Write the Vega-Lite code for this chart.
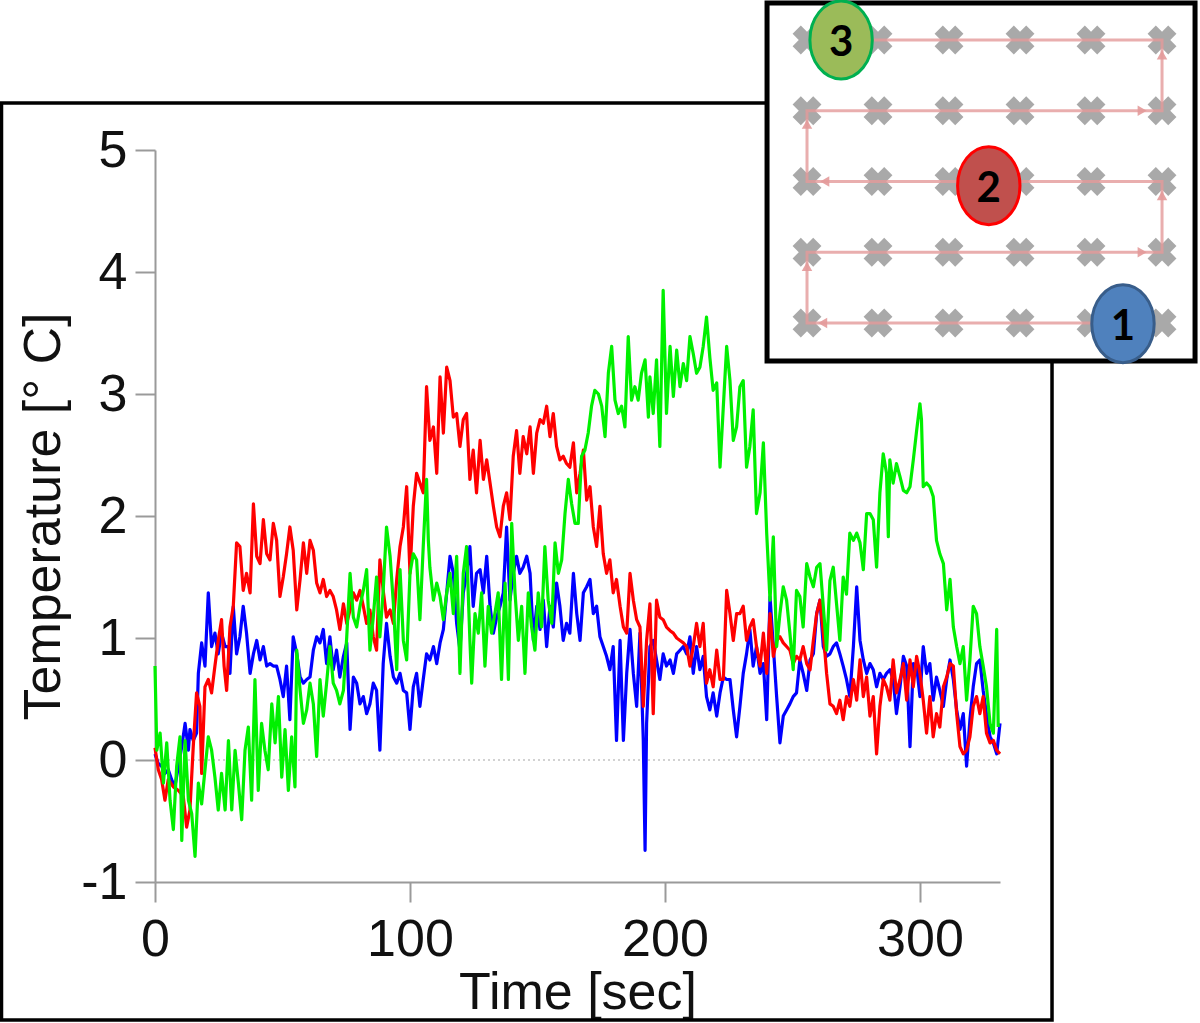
{
"$schema": "https://vega.github.io/schema/vega-lite/v6.json",
"width": 845, "height": 732,
"autosize": {"type": "none"},
"padding": {"left": 155, "top": 150, "right": 200, "bottom": 141},
"background": "white",
"config": {"view": {"stroke": null}, "font": "Liberation Sans"},
"datasets": {
"series": [
{"s":"1","t":0,"v":0.05},{"s":"1","t":1.3,"v":-0.03},{"s":"1","t":2.6,"v":-0.05},{"s":"1","t":3.9,"v":-0.11},{"s":"1","t":5.2,"v":-0.08},{"s":"1","t":6.5,"v":-0.16},{"s":"1","t":7.8,"v":-0.22},{"s":"1","t":9.2,"v":-0.05},{"s":"1","t":10.5,"v":0.11},{"s":"1","t":11.8,"v":0.3},{"s":"1","t":13.1,"v":0.08},{"s":"1","t":13.7,"v":0.25},{"s":"1","t":15,"v":0.16},{"s":"1","t":16.3,"v":0.22},{"s":"1","t":17,"v":0.71},{"s":"1","t":18.3,"v":0.96},{"s":"1","t":19.6,"v":0.77},{"s":"1","t":20.9,"v":1.37},{"s":"1","t":22.2,"v":0.93},{"s":"1","t":23.5,"v":1.04},{"s":"1","t":24.8,"v":0.87},{"s":"1","t":26.1,"v":1.04},{"s":"1","t":27.5,"v":0.93},{"s":"1","t":28.8,"v":0.93},{"s":"1","t":29.4,"v":0.71},{"s":"1","t":30.7,"v":1.26},{"s":"1","t":32,"v":0.87},{"s":"1","t":33.3,"v":1.01},{"s":"1","t":34.6,"v":1.26},{"s":"1","t":35.9,"v":1.04},{"s":"1","t":37.3,"v":0.71},{"s":"1","t":38.6,"v":0.87},{"s":"1","t":39.9,"v":0.98},{"s":"1","t":41.2,"v":0.82},{"s":"1","t":42.5,"v":0.93},{"s":"1","t":43.8,"v":0.77},{"s":"1","t":45.1,"v":0.79},{"s":"1","t":46.4,"v":0.77},{"s":"1","t":47.7,"v":0.77},{"s":"1","t":49,"v":0.66},{"s":"1","t":50.3,"v":0.52},{"s":"1","t":51.6,"v":0.77},{"s":"1","t":52.9,"v":0.33},{"s":"1","t":54.2,"v":1.01},{"s":"1","t":55.6,"v":0.87},{"s":"1","t":56.9,"v":0.68},{"s":"1","t":58.2,"v":0.63},{"s":"1","t":59.5,"v":0.66},{"s":"1","t":60.8,"v":0.68},{"s":"1","t":62.1,"v":0.9},{"s":"1","t":63.4,"v":1.01},{"s":"1","t":64.7,"v":0.96},{"s":"1","t":66,"v":1.07},{"s":"1","t":67.3,"v":0.79},{"s":"1","t":68.6,"v":1.01},{"s":"1","t":69.9,"v":0.74},{"s":"1","t":71.2,"v":0.9},{"s":"1","t":72.5,"v":0.68},{"s":"1","t":73.9,"v":0.85},{"s":"1","t":75.2,"v":0.96},{"s":"1","t":76.5,"v":0.25},{"s":"1","t":77.8,"v":0.68},{"s":"1","t":79.1,"v":0.63},{"s":"1","t":80.4,"v":0.46},{"s":"1","t":81.7,"v":0.52},{"s":"1","t":83,"v":0.38},{"s":"1","t":84.3,"v":0.46},{"s":"1","t":85.6,"v":0.63},{"s":"1","t":86.9,"v":0.57},{"s":"1","t":88.2,"v":0.08},{"s":"1","t":89.5,"v":0.79},{"s":"1","t":90.8,"v":1.12},{"s":"1","t":92.2,"v":0.85},{"s":"1","t":93.5,"v":0.68},{"s":"1","t":94.8,"v":0.63},{"s":"1","t":96.1,"v":0.71},{"s":"1","t":97.4,"v":0.57},{"s":"1","t":98.7,"v":0.55},{"s":"1","t":100,"v":0.25},{"s":"1","t":101.3,"v":0.6},{"s":"1","t":102.6,"v":0.71},{"s":"1","t":103.9,"v":0.44},{"s":"1","t":105.2,"v":0.66},{"s":"1","t":106.5,"v":0.87},{"s":"1","t":107.8,"v":0.82},{"s":"1","t":109.2,"v":0.93},{"s":"1","t":110.5,"v":0.79},{"s":"1","t":111.8,"v":0.96},{"s":"1","t":113.1,"v":1.07},{"s":"1","t":114.4,"v":1.37},{"s":"1","t":115.7,"v":1.67},{"s":"1","t":117,"v":1.53},{"s":"1","t":118.3,"v":1.12},{"s":"1","t":119.6,"v":0.9},{"s":"1","t":120.9,"v":1.37},{"s":"1","t":122.2,"v":1.53},{"s":"1","t":123.5,"v":1.75},{"s":"1","t":124.8,"v":1.26},{"s":"1","t":126.1,"v":1.53},{"s":"1","t":127.5,"v":1.56},{"s":"1","t":128.8,"v":1.37},{"s":"1","t":130.1,"v":1.67},{"s":"1","t":131.4,"v":1.26},{"s":"1","t":132.7,"v":1.04},{"s":"1","t":134,"v":1.17},{"s":"1","t":135.3,"v":1.26},{"s":"1","t":136.6,"v":1.37},{"s":"1","t":137.9,"v":1.91},{"s":"1","t":139.2,"v":1.31},{"s":"1","t":140.5,"v":1.53},{"s":"1","t":141.8,"v":1.67},{"s":"1","t":143.1,"v":1.53},{"s":"1","t":144.4,"v":1.58},{"s":"1","t":145.8,"v":1.67},{"s":"1","t":147.1,"v":1.53},{"s":"1","t":148.4,"v":0.98},{"s":"1","t":149.7,"v":1.26},{"s":"1","t":151,"v":1.07},{"s":"1","t":152.3,"v":1.31},{"s":"1","t":153.6,"v":0.93},{"s":"1","t":154.9,"v":1.26},{"s":"1","t":156.2,"v":1.09},{"s":"1","t":157.5,"v":1.45},{"s":"1","t":158.8,"v":1.26},{"s":"1","t":160.1,"v":0.98},{"s":"1","t":161.4,"v":1.12},{"s":"1","t":162.7,"v":1.04},{"s":"1","t":164.1,"v":1.53},{"s":"1","t":165.4,"v":1.2},{"s":"1","t":166.7,"v":0.98},{"s":"1","t":168,"v":1.37},{"s":"1","t":169.3,"v":1.42},{"s":"1","t":170.6,"v":1.48},{"s":"1","t":171.9,"v":1.2},{"s":"1","t":173.2,"v":1.26},{"s":"1","t":174.5,"v":1.01},{"s":"1","t":175.8,"v":0.93},{"s":"1","t":177.1,"v":0.85},{"s":"1","t":178.4,"v":0.74},{"s":"1","t":179.7,"v":0.93},{"s":"1","t":181,"v":0.16},{"s":"1","t":182.4,"v":0.98},{"s":"1","t":183.7,"v":0.16},{"s":"1","t":185,"v":0.71},{"s":"1","t":186.3,"v":1.07},{"s":"1","t":187.6,"v":0.71},{"s":"1","t":188.9,"v":0.44},{"s":"1","t":190.2,"v":1.04},{"s":"1","t":191.5,"v":0.16},{"s":"1","t":192.2,"v":-0.74},{"s":"1","t":192.8,"v":0.3},{"s":"1","t":194.1,"v":0.93},{"s":"1","t":195.4,"v":0.98},{"s":"1","t":196.7,"v":0.82},{"s":"1","t":198,"v":0.66},{"s":"1","t":199.3,"v":0.87},{"s":"1","t":200.6,"v":0.77},{"s":"1","t":202,"v":0.82},{"s":"1","t":203.3,"v":0.71},{"s":"1","t":204.6,"v":0.87},{"s":"1","t":205.9,"v":0.9},{"s":"1","t":207.2,"v":0.93},{"s":"1","t":208.5,"v":0.87},{"s":"1","t":209.8,"v":1.01},{"s":"1","t":211.1,"v":0.71},{"s":"1","t":212.4,"v":0.93},{"s":"1","t":213.7,"v":0.74},{"s":"1","t":215,"v":0.85},{"s":"1","t":216.3,"v":0.52},{"s":"1","t":217.6,"v":0.41},{"s":"1","t":218.9,"v":0.55},{"s":"1","t":220.3,"v":0.36},{"s":"1","t":221.6,"v":0.55},{"s":"1","t":222.9,"v":0.68},{"s":"1","t":224.2,"v":0.66},{"s":"1","t":225.5,"v":0.66},{"s":"1","t":226.8,"v":0.41},{"s":"1","t":228.1,"v":0.19},{"s":"1","t":229.4,"v":0.44},{"s":"1","t":230.7,"v":0.71},{"s":"1","t":232,"v":0.87},{"s":"1","t":233.3,"v":1.07},{"s":"1","t":234.6,"v":0.77},{"s":"1","t":235.9,"v":0.93},{"s":"1","t":237.3,"v":0.71},{"s":"1","t":238.6,"v":0.79},{"s":"1","t":239.9,"v":0.33},{"s":"1","t":241.2,"v":1.34},{"s":"1","t":242.5,"v":0.93},{"s":"1","t":243.8,"v":0.52},{"s":"1","t":245.1,"v":0.14},{"s":"1","t":246.4,"v":0.36},{"s":"1","t":247.7,"v":0.41},{"s":"1","t":249,"v":0.46},{"s":"1","t":250.3,"v":0.52},{"s":"1","t":251.6,"v":0.55},{"s":"1","t":252.9,"v":0.82},{"s":"1","t":254.2,"v":0.71},{"s":"1","t":255.6,"v":0.57},{"s":"1","t":256.9,"v":0.82},{"s":"1","t":258.2,"v":0.87},{"s":"1","t":259.5,"v":1.2},{"s":"1","t":260.8,"v":1.31},{"s":"1","t":262.1,"v":0.93},{"s":"1","t":263.4,"v":0.85},{"s":"1","t":264.7,"v":0.87},{"s":"1","t":266,"v":0.93},{"s":"1","t":267.3,"v":0.96},{"s":"1","t":268.6,"v":0.87},{"s":"1","t":269.9,"v":0.77},{"s":"1","t":271.2,"v":0.66},{"s":"1","t":272.5,"v":0.52},{"s":"1","t":273.9,"v":0.93},{"s":"1","t":275.2,"v":1.42},{"s":"1","t":276.5,"v":0.98},{"s":"1","t":277.8,"v":0.82},{"s":"1","t":279.1,"v":0.71},{"s":"1","t":280.4,"v":0.79},{"s":"1","t":281.7,"v":0.74},{"s":"1","t":283,"v":0.6},{"s":"1","t":284.3,"v":0.71},{"s":"1","t":285.6,"v":0.66},{"s":"1","t":286.9,"v":0.71},{"s":"1","t":288.2,"v":0.74},{"s":"1","t":289.5,"v":0.66},{"s":"1","t":290.8,"v":0.38},{"s":"1","t":292.2,"v":0.6},{"s":"1","t":293.5,"v":0.85},{"s":"1","t":294.8,"v":0.77},{"s":"1","t":296.1,"v":0.11},{"s":"1","t":297.4,"v":0.79},{"s":"1","t":298.7,"v":0.77},{"s":"1","t":300,"v":0.52},{"s":"1","t":301.3,"v":0.93},{"s":"1","t":302.6,"v":0.71},{"s":"1","t":303.9,"v":0.79},{"s":"1","t":305.2,"v":0.49},{"s":"1","t":306.5,"v":0.68},{"s":"1","t":307.8,"v":0.57},{"s":"1","t":309.2,"v":0.44},{"s":"1","t":310.5,"v":0.66},{"s":"1","t":311.8,"v":0.82},{"s":"1","t":313.1,"v":0.66},{"s":"1","t":314.4,"v":0.41},{"s":"1","t":315.7,"v":0.25},{"s":"1","t":317,"v":0.38},{"s":"1","t":318.3,"v":-0.05},{"s":"1","t":319.6,"v":0.33},{"s":"1","t":320.9,"v":0.6},{"s":"1","t":322.2,"v":0.79},{"s":"1","t":323.5,"v":0.82},{"s":"1","t":324.8,"v":0.57},{"s":"1","t":326.1,"v":0.38},{"s":"1","t":327.5,"v":0.19},{"s":"1","t":328.8,"v":0.14},{"s":"1","t":330.1,"v":0.05},{"s":"1","t":331.4,"v":0.3},
{"s":"2","t":0,"v":0.1},{"s":"2","t":1.3,"v":-0.08},{"s":"2","t":2.6,"v":-0.16},{"s":"2","t":3.9,"v":-0.33},{"s":"2","t":5.2,"v":-0.16},{"s":"2","t":7.2,"v":-0.22},{"s":"2","t":9.2,"v":-0.25},{"s":"2","t":11.1,"v":-0.3},{"s":"2","t":12.4,"v":-0.55},{"s":"2","t":13.7,"v":-0.41},{"s":"2","t":15,"v":0.11},{"s":"2","t":16.3,"v":0.55},{"s":"2","t":17.6,"v":0.44},{"s":"2","t":18.3,"v":-0.11},{"s":"2","t":19.6,"v":0.6},{"s":"2","t":20.9,"v":0.66},{"s":"2","t":22.2,"v":0.55},{"s":"2","t":23.5,"v":0.77},{"s":"2","t":24.8,"v":0.98},{"s":"2","t":26.1,"v":1.15},{"s":"2","t":27.1,"v":0.77},{"s":"2","t":28.1,"v":0.57},{"s":"2","t":29.4,"v":1.09},{"s":"2","t":30.7,"v":1.26},{"s":"2","t":32,"v":1.78},{"s":"2","t":33.3,"v":1.75},{"s":"2","t":34.6,"v":1.39},{"s":"2","t":35.9,"v":1.53},{"s":"2","t":37.3,"v":1.37},{"s":"2","t":38.6,"v":2.1},{"s":"2","t":39.9,"v":1.67},{"s":"2","t":41.2,"v":1.61},{"s":"2","t":42.5,"v":1.97},{"s":"2","t":43.8,"v":1.69},{"s":"2","t":45.1,"v":1.64},{"s":"2","t":46.4,"v":1.94},{"s":"2","t":47.7,"v":1.8},{"s":"2","t":49,"v":1.34},{"s":"2","t":50.3,"v":1.5},{"s":"2","t":51.6,"v":1.69},{"s":"2","t":52.9,"v":1.91},{"s":"2","t":54.2,"v":1.72},{"s":"2","t":55.6,"v":1.23},{"s":"2","t":56.9,"v":1.48},{"s":"2","t":58.2,"v":1.78},{"s":"2","t":59.5,"v":1.53},{"s":"2","t":60.8,"v":1.8},{"s":"2","t":62.1,"v":1.72},{"s":"2","t":63.4,"v":1.45},{"s":"2","t":64.7,"v":1.37},{"s":"2","t":66,"v":1.48},{"s":"2","t":67.3,"v":1.34},{"s":"2","t":68.6,"v":1.39},{"s":"2","t":69.9,"v":1.34},{"s":"2","t":71.2,"v":1.23},{"s":"2","t":72.5,"v":1.07},{"s":"2","t":73.9,"v":1.28},{"s":"2","t":75.2,"v":1.12},{"s":"2","t":76.5,"v":1.23},{"s":"2","t":77.8,"v":1.37},{"s":"2","t":79.1,"v":1.31},{"s":"2","t":80.4,"v":1.39},{"s":"2","t":81.7,"v":1.26},{"s":"2","t":83,"v":1.12},{"s":"2","t":84.3,"v":1.23},{"s":"2","t":85.6,"v":1.01},{"s":"2","t":86.9,"v":0.9},{"s":"2","t":88.2,"v":1.64},{"s":"2","t":89.5,"v":1.39},{"s":"2","t":90.8,"v":1.17},{"s":"2","t":92.2,"v":1.23},{"s":"2","t":93.5,"v":1.12},{"s":"2","t":94.8,"v":1.48},{"s":"2","t":96.1,"v":1.75},{"s":"2","t":97.4,"v":1.91},{"s":"2","t":98.7,"v":2.24},{"s":"2","t":100,"v":1.53},{"s":"2","t":101.3,"v":2.08},{"s":"2","t":102.6,"v":2.35},{"s":"2","t":103.9,"v":2.27},{"s":"2","t":105.2,"v":2.19},{"s":"2","t":106.5,"v":3.06},{"s":"2","t":107.8,"v":2.62},{"s":"2","t":109.2,"v":2.73},{"s":"2","t":110.5,"v":2.35},{"s":"2","t":111.8,"v":3.14},{"s":"2","t":113.1,"v":2.68},{"s":"2","t":114.4,"v":3.22},{"s":"2","t":115.7,"v":3.11},{"s":"2","t":117,"v":2.81},{"s":"2","t":118.3,"v":2.84},{"s":"2","t":119.6,"v":2.57},{"s":"2","t":120.9,"v":2.79},{"s":"2","t":122.2,"v":2.84},{"s":"2","t":123.5,"v":2.3},{"s":"2","t":124.8,"v":2.54},{"s":"2","t":126.1,"v":2.19},{"s":"2","t":127.5,"v":2.62},{"s":"2","t":128.8,"v":2.3},{"s":"2","t":130.1,"v":2.46},{"s":"2","t":131.4,"v":2.27},{"s":"2","t":132.7,"v":2.08},{"s":"2","t":134,"v":1.91},{"s":"2","t":135.3,"v":1.83},{"s":"2","t":136.6,"v":2.08},{"s":"2","t":137.9,"v":2.19},{"s":"2","t":139.2,"v":1.97},{"s":"2","t":140.5,"v":2.49},{"s":"2","t":141.8,"v":2.7},{"s":"2","t":143.1,"v":2.35},{"s":"2","t":144.4,"v":2.65},{"s":"2","t":145.8,"v":2.51},{"s":"2","t":147.1,"v":2.73},{"s":"2","t":148.4,"v":2.35},{"s":"2","t":149.7,"v":2.68},{"s":"2","t":151,"v":2.79},{"s":"2","t":152.3,"v":2.76},{"s":"2","t":153.6,"v":2.9},{"s":"2","t":154.9,"v":2.65},{"s":"2","t":156.2,"v":2.84},{"s":"2","t":157.5,"v":2.57},{"s":"2","t":158.8,"v":2.46},{"s":"2","t":160.1,"v":2.49},{"s":"2","t":161.4,"v":2.43},{"s":"2","t":162.7,"v":2.4},{"s":"2","t":164.1,"v":2.6},{"s":"2","t":165.4,"v":2.19},{"s":"2","t":166.7,"v":2.35},{"s":"2","t":168,"v":2.54},{"s":"2","t":169.3,"v":2.13},{"s":"2","t":170.6,"v":2.24},{"s":"2","t":171.9,"v":1.91},{"s":"2","t":173.2,"v":1.75},{"s":"2","t":174.5,"v":2.08},{"s":"2","t":175.8,"v":1.69},{"s":"2","t":177.1,"v":1.53},{"s":"2","t":178.4,"v":1.64},{"s":"2","t":179.7,"v":1.37},{"s":"2","t":181,"v":1.48},{"s":"2","t":182.4,"v":1.26},{"s":"2","t":183.7,"v":1.09},{"s":"2","t":185,"v":1.04},{"s":"2","t":186.3,"v":1.53},{"s":"2","t":187.6,"v":1.31},{"s":"2","t":188.9,"v":1.15},{"s":"2","t":190.2,"v":1.09},{"s":"2","t":191.5,"v":0.44},{"s":"2","t":192.8,"v":0.98},{"s":"2","t":194.1,"v":1.28},{"s":"2","t":195.4,"v":0.38},{"s":"2","t":196.7,"v":1.31},{"s":"2","t":198,"v":1.17},{"s":"2","t":199.3,"v":1.15},{"s":"2","t":200.6,"v":1.09},{"s":"2","t":202,"v":1.06},{"s":"2","t":203.3,"v":1.04},{"s":"2","t":204.6,"v":1.0},{"s":"2","t":205.9,"v":0.98},{"s":"2","t":207.2,"v":0.96},{"s":"2","t":208.5,"v":0.93},{"s":"2","t":209.8,"v":0.77},{"s":"2","t":211.1,"v":0.93},{"s":"2","t":212.4,"v":1.12},{"s":"2","t":213.7,"v":0.93},{"s":"2","t":215,"v":1.12},{"s":"2","t":216.3,"v":0.63},{"s":"2","t":217.6,"v":0.74},{"s":"2","t":218.9,"v":0.6},{"s":"2","t":220.3,"v":0.9},{"s":"2","t":221.6,"v":0.66},{"s":"2","t":222.9,"v":0.66},{"s":"2","t":224.2,"v":1.39},{"s":"2","t":225.5,"v":1.2},{"s":"2","t":226.8,"v":0.98},{"s":"2","t":228.1,"v":1.2},{"s":"2","t":229.4,"v":1.2},{"s":"2","t":230.7,"v":1.26},{"s":"2","t":232,"v":0.98},{"s":"2","t":233.3,"v":1.09},{"s":"2","t":234.6,"v":1.15},{"s":"2","t":235.9,"v":0.93},{"s":"2","t":237.3,"v":0.77},{"s":"2","t":238.6,"v":1.04},{"s":"2","t":239.9,"v":0.71},{"s":"2","t":241.2,"v":1.2},{"s":"2","t":242.5,"v":0.85},{"s":"2","t":243.8,"v":0.98},{"s":"2","t":245.1,"v":1.01},{"s":"2","t":246.4,"v":0.96},{"s":"2","t":247.7,"v":0.93},{"s":"2","t":249,"v":0.9},{"s":"2","t":250.3,"v":0.79},{"s":"2","t":251.6,"v":0.85},{"s":"2","t":252.9,"v":0.82},{"s":"2","t":254.2,"v":0.93},{"s":"2","t":255.6,"v":0.79},{"s":"2","t":256.9,"v":0.74},{"s":"2","t":258.2,"v":0.98},{"s":"2","t":259.5,"v":1.2},{"s":"2","t":260.8,"v":1.31},{"s":"2","t":262.1,"v":1.04},{"s":"2","t":263.4,"v":0.71},{"s":"2","t":264.7,"v":0.46},{"s":"2","t":266,"v":0.44},{"s":"2","t":267.3,"v":0.38},{"s":"2","t":268.6,"v":0.49},{"s":"2","t":269.9,"v":0.33},{"s":"2","t":271.2,"v":0.52},{"s":"2","t":272.5,"v":0.44},{"s":"2","t":273.9,"v":0.66},{"s":"2","t":275.2,"v":0.49},{"s":"2","t":276.5,"v":0.82},{"s":"2","t":277.8,"v":0.52},{"s":"2","t":279.1,"v":0.68},{"s":"2","t":280.4,"v":0.36},{"s":"2","t":281.7,"v":0.52},{"s":"2","t":283,"v":0.05},{"s":"2","t":284.3,"v":0.44},{"s":"2","t":285.6,"v":0.66},{"s":"2","t":286.9,"v":0.6},{"s":"2","t":288.2,"v":0.49},{"s":"2","t":289.5,"v":0.82},{"s":"2","t":290.8,"v":0.55},{"s":"2","t":292.2,"v":0.66},{"s":"2","t":293.5,"v":0.79},{"s":"2","t":294.8,"v":0.49},{"s":"2","t":296.1,"v":0.82},{"s":"2","t":297.4,"v":0.6},{"s":"2","t":298.7,"v":0.85},{"s":"2","t":300,"v":0.71},{"s":"2","t":301.3,"v":0.49},{"s":"2","t":302.6,"v":0.22},{"s":"2","t":303.9,"v":0.52},{"s":"2","t":305.2,"v":0.19},{"s":"2","t":306.5,"v":0.38},{"s":"2","t":307.8,"v":0.27},{"s":"2","t":309.2,"v":0.6},{"s":"2","t":310.5,"v":0.68},{"s":"2","t":311.8,"v":0.79},{"s":"2","t":313.1,"v":0.77},{"s":"2","t":314.4,"v":0.38},{"s":"2","t":315.7,"v":0.11},{"s":"2","t":317,"v":0.05},{"s":"2","t":318.3,"v":0.08},{"s":"2","t":319.6,"v":0.19},{"s":"2","t":320.9,"v":0.44},{"s":"2","t":322.2,"v":0.52},{"s":"2","t":323.5,"v":0.38},{"s":"2","t":324.8,"v":0.52},{"s":"2","t":326.1,"v":0.22},{"s":"2","t":327.5,"v":0.14},{"s":"2","t":328.8,"v":0.16},{"s":"2","t":330.1,"v":0.08},{"s":"2","t":331.4,"v":0.05},
{"s":"3","t":0,"v":0.77},{"s":"3","t":0.7,"v":0.08},{"s":"3","t":2,"v":0.22},{"s":"3","t":3.3,"v":-0.19},{"s":"3","t":4.6,"v":0.14},{"s":"3","t":5.9,"v":-0.33},{"s":"3","t":7.2,"v":-0.57},{"s":"3","t":8.5,"v":-0.05},{"s":"3","t":9.8,"v":0.19},{"s":"3","t":10.5,"v":-0.66},{"s":"3","t":11.8,"v":0.16},{"s":"3","t":13.1,"v":-0.33},{"s":"3","t":14.4,"v":-0.44},{"s":"3","t":15.7,"v":-0.79},{"s":"3","t":17,"v":-0.19},{"s":"3","t":18.3,"v":-0.36},{"s":"3","t":19.6,"v":-0.08},{"s":"3","t":20.9,"v":0.19},{"s":"3","t":22.2,"v":0.08},{"s":"3","t":23.5,"v":-0.14},{"s":"3","t":24.8,"v":-0.41},{"s":"3","t":26.1,"v":-0.11},{"s":"3","t":27.5,"v":-0.41},{"s":"3","t":28.8,"v":0.16},{"s":"3","t":30.1,"v":-0.41},{"s":"3","t":31.4,"v":0.08},{"s":"3","t":32.7,"v":-0.19},{"s":"3","t":34,"v":-0.49},{"s":"3","t":35.3,"v":0.08},{"s":"3","t":36.6,"v":0.27},{"s":"3","t":37.9,"v":-0.33},{"s":"3","t":39.2,"v":0.66},{"s":"3","t":40.5,"v":-0.25},{"s":"3","t":41.8,"v":0.3},{"s":"3","t":43.1,"v":0.08},{"s":"3","t":44.4,"v":-0.08},{"s":"3","t":45.8,"v":0.46},{"s":"3","t":47.1,"v":0.14},{"s":"3","t":48.4,"v":0.52},{"s":"3","t":49.7,"v":-0.14},{"s":"3","t":51,"v":0.25},{"s":"3","t":52.3,"v":-0.25},{"s":"3","t":53.6,"v":0.19},{"s":"3","t":54.9,"v":-0.22},{"s":"3","t":55.6,"v":0.9},{"s":"3","t":56.9,"v":0.57},{"s":"3","t":58.2,"v":0.3},{"s":"3","t":59.5,"v":0.41},{"s":"3","t":60.8,"v":0.63},{"s":"3","t":62.1,"v":0.46},{"s":"3","t":63.4,"v":0.03},{"s":"3","t":64.7,"v":0.66},{"s":"3","t":66,"v":0.36},{"s":"3","t":67.3,"v":0.63},{"s":"3","t":68.6,"v":0.93},{"s":"3","t":69.9,"v":0.63},{"s":"3","t":71.2,"v":0.57},{"s":"3","t":72.5,"v":0.46},{"s":"3","t":73.9,"v":0.57},{"s":"3","t":75.2,"v":1.01},{"s":"3","t":76.5,"v":1.53},{"s":"3","t":77.8,"v":1.17},{"s":"3","t":79.1,"v":1.09},{"s":"3","t":80.4,"v":1.26},{"s":"3","t":81.7,"v":1.39},{"s":"3","t":83,"v":1.56},{"s":"3","t":84.3,"v":0.9},{"s":"3","t":85.6,"v":1.17},{"s":"3","t":86.9,"v":1.5},{"s":"3","t":88.2,"v":1.01},{"s":"3","t":89.5,"v":1.39},{"s":"3","t":90.8,"v":1.91},{"s":"3","t":92.2,"v":1.67},{"s":"3","t":93.5,"v":1.28},{"s":"3","t":94.8,"v":0.74},{"s":"3","t":96.1,"v":1.56},{"s":"3","t":97.4,"v":0.98},{"s":"3","t":98.7,"v":0.82},{"s":"3","t":100,"v":1.53},{"s":"3","t":101.3,"v":1.69},{"s":"3","t":102.6,"v":1.64},{"s":"3","t":103.9,"v":1.15},{"s":"3","t":105.2,"v":1.75},{"s":"3","t":106.5,"v":2.3},{"s":"3","t":107.2,"v":1.8},{"s":"3","t":107.8,"v":1.58},{"s":"3","t":109.2,"v":1.31},{"s":"3","t":110.5,"v":1.45},{"s":"3","t":111.8,"v":1.34},{"s":"3","t":113.1,"v":1.15},{"s":"3","t":114.4,"v":1.37},{"s":"3","t":115.7,"v":1.53},{"s":"3","t":117,"v":1.2},{"s":"3","t":118.3,"v":1.67},{"s":"3","t":119.6,"v":0.71},{"s":"3","t":120.9,"v":1.53},{"s":"3","t":122.2,"v":1.75},{"s":"3","t":123.5,"v":0.98},{"s":"3","t":124.2,"v":0.63},{"s":"3","t":125.5,"v":1.2},{"s":"3","t":126.8,"v":1.04},{"s":"3","t":128.1,"v":1.37},{"s":"3","t":129.4,"v":0.77},{"s":"3","t":130.7,"v":1.26},{"s":"3","t":132,"v":1.04},{"s":"3","t":133.3,"v":1.2},{"s":"3","t":134.6,"v":1.37},{"s":"3","t":135.9,"v":0.66},{"s":"3","t":137.3,"v":1.45},{"s":"3","t":138.6,"v":0.66},{"s":"3","t":139.9,"v":1.94},{"s":"3","t":141.2,"v":1.37},{"s":"3","t":142.5,"v":0.98},{"s":"3","t":143.8,"v":1.26},{"s":"3","t":145.1,"v":0.71},{"s":"3","t":146.4,"v":1.37},{"s":"3","t":147.7,"v":1.09},{"s":"3","t":149,"v":0.9},{"s":"3","t":150.3,"v":1.37},{"s":"3","t":151.6,"v":1.09},{"s":"3","t":152.9,"v":1.75},{"s":"3","t":154.2,"v":1.31},{"s":"3","t":155.6,"v":1.12},{"s":"3","t":156.9,"v":1.78},{"s":"3","t":158.2,"v":1.53},{"s":"3","t":159.5,"v":1.64},{"s":"3","t":160.8,"v":2.02},{"s":"3","t":162.1,"v":2.3},{"s":"3","t":163.4,"v":2.1},{"s":"3","t":164.7,"v":1.94},{"s":"3","t":166,"v":1.94},{"s":"3","t":167.3,"v":2.49},{"s":"3","t":168.6,"v":2.54},{"s":"3","t":169.9,"v":2.68},{"s":"3","t":171.2,"v":2.9},{"s":"3","t":172.5,"v":3.03},{"s":"3","t":173.9,"v":3.0},{"s":"3","t":175.2,"v":2.9},{"s":"3","t":176.5,"v":2.65},{"s":"3","t":177.8,"v":3.17},{"s":"3","t":179.1,"v":3.39},{"s":"3","t":180.4,"v":2.95},{"s":"3","t":181.7,"v":2.84},{"s":"3","t":183,"v":2.9},{"s":"3","t":184.3,"v":2.73},{"s":"3","t":185.6,"v":3.47},{"s":"3","t":186.9,"v":2.95},{"s":"3","t":188.2,"v":3.06},{"s":"3","t":189.5,"v":2.95},{"s":"3","t":190.8,"v":3.17},{"s":"3","t":192.2,"v":3.28},{"s":"3","t":193.5,"v":2.81},{"s":"3","t":194.1,"v":3.14},{"s":"3","t":195.4,"v":2.84},{"s":"3","t":196.7,"v":3.28},{"s":"3","t":198,"v":2.57},{"s":"3","t":199.3,"v":3.85},{"s":"3","t":200.6,"v":2.84},{"s":"3","t":202,"v":3.39},{"s":"3","t":203.3,"v":2.98},{"s":"3","t":204.6,"v":3.36},{"s":"3","t":205.9,"v":3.06},{"s":"3","t":207.2,"v":3.25},{"s":"3","t":208.5,"v":3.11},{"s":"3","t":209.8,"v":3.47},{"s":"3","t":211.1,"v":3.33},{"s":"3","t":212.4,"v":3.17},{"s":"3","t":213.7,"v":3.22},{"s":"3","t":215,"v":3.39},{"s":"3","t":216.3,"v":3.63},{"s":"3","t":217.6,"v":3.3},{"s":"3","t":218.9,"v":3.03},{"s":"3","t":220.3,"v":3.09},{"s":"3","t":221.6,"v":2.4},{"s":"3","t":222.9,"v":2.9},{"s":"3","t":224.2,"v":3.39},{"s":"3","t":225.5,"v":3.11},{"s":"3","t":226.8,"v":2.62},{"s":"3","t":228.1,"v":2.73},{"s":"3","t":229.4,"v":3.06},{"s":"3","t":230.7,"v":3.11},{"s":"3","t":232,"v":2.4},{"s":"3","t":233.3,"v":2.57},{"s":"3","t":234.6,"v":2.87},{"s":"3","t":235.9,"v":2.02},{"s":"3","t":237.3,"v":2.19},{"s":"3","t":238.6,"v":2.6},{"s":"3","t":239.9,"v":1.86},{"s":"3","t":241.2,"v":1.31},{"s":"3","t":242.5,"v":1.83},{"s":"3","t":243.8,"v":0.93},{"s":"3","t":245.1,"v":1.2},{"s":"3","t":246.4,"v":1.42},{"s":"3","t":247.7,"v":1.31},{"s":"3","t":249,"v":1.04},{"s":"3","t":250.3,"v":0.74},{"s":"3","t":251.6,"v":1.39},{"s":"3","t":252.9,"v":1.34},{"s":"3","t":254.2,"v":1.09},{"s":"3","t":255.6,"v":1.61},{"s":"3","t":256.9,"v":1.5},{"s":"3","t":258.2,"v":1.42},{"s":"3","t":259.5,"v":1.58},{"s":"3","t":260.8,"v":1.61},{"s":"3","t":262.1,"v":1.26},{"s":"3","t":263.4,"v":0.9},{"s":"3","t":264.7,"v":1.47},{"s":"3","t":266,"v":1.58},{"s":"3","t":267.3,"v":1.28},{"s":"3","t":268.6,"v":0.98},{"s":"3","t":269.9,"v":1.5},{"s":"3","t":271.2,"v":1.36},{"s":"3","t":272.5,"v":1.86},{"s":"3","t":273.9,"v":1.8},{"s":"3","t":275.2,"v":1.86},{"s":"3","t":276.5,"v":1.78},{"s":"3","t":277.8,"v":1.56},{"s":"3","t":279.1,"v":2.02},{"s":"3","t":280.4,"v":2.02},{"s":"3","t":281.7,"v":1.97},{"s":"3","t":283,"v":1.58},{"s":"3","t":284.3,"v":2.19},{"s":"3","t":285.6,"v":2.51},{"s":"3","t":286.9,"v":2.35},{"s":"3","t":287.6,"v":1.83},{"s":"3","t":288.2,"v":2.46},{"s":"3","t":289.5,"v":2.27},{"s":"3","t":290.8,"v":2.43},{"s":"3","t":292.2,"v":2.32},{"s":"3","t":293.5,"v":2.21},{"s":"3","t":294.8,"v":2.19},{"s":"3","t":296.1,"v":2.24},{"s":"3","t":297.4,"v":2.46},{"s":"3","t":298.7,"v":2.7},{"s":"3","t":300,"v":2.92},{"s":"3","t":300.6,"v":2.79},{"s":"3","t":301.3,"v":2.24},{"s":"3","t":302.6,"v":2.27},{"s":"3","t":303.9,"v":2.24},{"s":"3","t":305.2,"v":2.16},{"s":"3","t":306.5,"v":1.8},{"s":"3","t":307.8,"v":1.69},{"s":"3","t":309.2,"v":1.61},{"s":"3","t":310.5,"v":1.23},{"s":"3","t":311.8,"v":1.48},{"s":"3","t":313.1,"v":1.09},{"s":"3","t":314.4,"v":0.93},{"s":"3","t":315.7,"v":0.79},{"s":"3","t":317,"v":0.93},{"s":"3","t":318.3,"v":0.49},{"s":"3","t":319.6,"v":0.82},{"s":"3","t":320.9,"v":1.26},{"s":"3","t":322.2,"v":1.2},{"s":"3","t":323.5,"v":0.93},{"s":"3","t":324.8,"v":0.77},{"s":"3","t":326.1,"v":0.6},{"s":"3","t":327.5,"v":0.3},{"s":"3","t":328.8,"v":0.22},{"s":"3","t":330.1,"v":1.07},{"s":"3","t":330.7,"v":0.27}
],
"grid": [
{"gx":1,"gy":1},{"gx":2,"gy":1},{"gx":3,"gy":1},{"gx":4,"gy":1},{"gx":5,"gy":1},{"gx":6,"gy":1},
{"gx":1,"gy":2},{"gx":2,"gy":2},{"gx":3,"gy":2},{"gx":4,"gy":2},{"gx":5,"gy":2},{"gx":6,"gy":2},
{"gx":1,"gy":3},{"gx":2,"gy":3},{"gx":3,"gy":3},{"gx":4,"gy":3},{"gx":5,"gy":3},{"gx":6,"gy":3},
{"gx":1,"gy":4},{"gx":2,"gy":4},{"gx":3,"gy":4},{"gx":4,"gy":4},{"gx":5,"gy":4},{"gx":6,"gy":4},
{"gx":1,"gy":5},{"gx":2,"gy":5},{"gx":3,"gy":5},{"gx":4,"gy":5},{"gx":5,"gy":5},{"gx":6,"gy":5}
],
"path": [
{"k":0,"gx":5.45,"gy":5},{"k":1,"gx":1,"gy":5},{"k":2,"gx":1,"gy":4},{"k":3,"gx":6,"gy":4},{"k":4,"gx":6,"gy":3},{"k":5,"gx":1,"gy":3},{"k":6,"gx":1,"gy":2},{"k":7,"gx":6,"gy":2},{"k":8,"gx":6,"gy":1},{"k":9,"gx":1.48,"gy":1}
],
"arrows": [
{"gx":1.22,"gy":5,"d":"L"},{"gx":1,"gy":4.2,"d":"U"},{"gx":5.72,"gy":4,"d":"R"},{"gx":6,"gy":3.2,"d":"U"},{"gx":1.25,"gy":3,"d":"L"},{"gx":1,"gy":2.19,"d":"U"},{"gx":5.72,"gy":2,"d":"R"},{"gx":6,"gy":1.21,"d":"U"}
],
"badges": [
{"n":"1","gx":5.45,"gy":5.01},{"n":"2","gx":3.56,"gy":3.06},{"n":"3","gx":1.48,"gy":1.0}
]
},
"layer": [
{
"layer": [
{"data": {"values": [{}]},
 "mark": {"type": "rect", "fillOpacity": 0, "stroke": "black", "strokeWidth": 3.5},
 "encoding": {
  "x": {"datum": -60.2, "type": "quantitative", "scale": {"domain": [0, 331.4], "nice": false, "zero": false}},
  "x2": {"datum": 351.8},
  "y": {"datum": 5.385, "type": "quantitative", "scale": {"domain": [-1, 5], "nice": false, "zero": false}},
  "y2": {"datum": -2.131}}},
{"data": {"values": [{}]},
 "mark": {"type": "rule", "color": "#c4c4c4", "strokeDash": [2, 3], "strokeWidth": 1.5},
 "encoding": {"y": {"datum": 0, "type": "quantitative"}}},
{"data": {"name": "series"},
 "mark": {"type": "line", "strokeWidth": 3.2, "strokeJoin": "round"},
 "encoding": {
  "x": {"field": "t", "type": "quantitative", "scale": {"domain": [0, 331.4], "nice": false, "zero": false},
   "axis": {"values": [0, 100, 200, 300], "title": "Time [sec]", "grid": false, "tickSize": 20, "tickWidth": 2, "tickColor": "#9a9a9a", "domainColor": "#9a9a9a", "domainWidth": 2, "labelFont": "Liberation Sans", "labelFontSize": 52, "labelColor": "#111", "labelPadding": 12, "labelFlush": false, "labelOverlap": false, "titleFont": "Liberation Sans", "titleFontSize": 52, "titleFontWeight": "normal", "titleColor": "#111", "titlePadding": 2}},
  "y": {"field": "v", "type": "quantitative", "scale": {"domain": [-1, 5], "nice": false, "zero": false},
   "axis": {"values": [-1, 0, 1, 2, 3, 4, 5], "labelExpr": "'' + datum.value", "title": "Temperature [° C]", "grid": false, "tickSize": 20, "tickWidth": 2, "tickColor": "#9a9a9a", "domainColor": "#9a9a9a", "domainWidth": 2, "labelFont": "Liberation Sans", "labelFontSize": 52, "labelColor": "#111", "labelPadding": 8, "labelOverlap": false, "titleFont": "Liberation Sans", "titleFontSize": 52, "titleFontWeight": "normal", "titleColor": "#111", "titlePadding": 10}},
  "color": {"field": "s", "type": "nominal", "scale": {"domain": ["1", "2", "3"], "range": ["#0000ff", "#ff0000", "#00f000"]}, "legend": null}}}
]
},
{
"layer": [
{"data": {"values": [{}]},
 "mark": {"type": "rect", "fill": "white", "stroke": "black", "strokeWidth": 5},
 "encoding": {
  "x": {"datum": 0.437, "type": "quantitative", "scale": {"domain": [-8.183, 3.718], "nice": false, "zero": false}, "axis": null},
  "x2": {"datum": 6.465},
  "y": {"datum": 0.477, "type": "quantitative", "scale": {"domain": [2.555, 12.901], "nice": false, "zero": false, "reverse": true}, "axis": null},
  "y2": {"datum": 5.537}}},
{"data": {"name": "grid"},
 "mark": {"type": "point", "shape": "cross", "angle": 45, "filled": true, "color": "#a0a0a0", "size": 850, "opacity": 0.9},
 "encoding": {"x": {"field": "gx", "type": "quantitative"}, "y": {"field": "gy", "type": "quantitative"}}},
{"data": {"name": "path"},
 "mark": {"type": "line", "color": "#e39a9a", "strokeWidth": 3, "opacity": 0.8},
 "encoding": {"x": {"field": "gx", "type": "quantitative"}, "y": {"field": "gy", "type": "quantitative"}, "order": {"field": "k", "type": "quantitative"}}},
{"data": {"name": "arrows"},
 "mark": {"type": "point", "filled": true, "color": "#e39a9a", "size": 110, "opacity": 0.9},
 "encoding": {"x": {"field": "gx", "type": "quantitative"}, "y": {"field": "gy", "type": "quantitative"},
  "shape": {"field": "d", "type": "nominal", "scale": {"domain": ["L", "R", "U"], "range": ["triangle-left", "triangle-right", "triangle-up"]}, "legend": null}}},
{"data": {"name": "badges"},
 "mark": {"type": "point", "filled": true, "shape": "M -0.8 0 A 0.8 1 0 1 0 0.8 0 A 0.8 1 0 1 0 -0.8 0 Z", "size": 6084, "strokeWidth": 3, "opacity": 1},
 "encoding": {"x": {"field": "gx", "type": "quantitative"}, "y": {"field": "gy", "type": "quantitative"},
  "fill": {"field": "n", "type": "nominal", "scale": {"domain": ["1", "2", "3"], "range": ["#4f81bd", "#c0504d", "#9bbb59"]}, "legend": null},
  "stroke": {"field": "n", "type": "nominal", "scale": {"domain": ["1", "2", "3"], "range": ["#385d8a", "#ff0000", "#00b050"]}, "legend": null}}},
{"data": {"name": "badges"},
 "mark": {"type": "text", "font": "Lato", "fontWeight": "bold", "fontSize": 42, "color": "#000", "align": "center", "baseline": "middle", "dy": 3},
 "encoding": {"x": {"field": "gx", "type": "quantitative"}, "y": {"field": "gy", "type": "quantitative"}, "text": {"field": "n"}}}
]
}
],
"resolve": {"scale": {"x": "independent", "y": "independent"}}
}
